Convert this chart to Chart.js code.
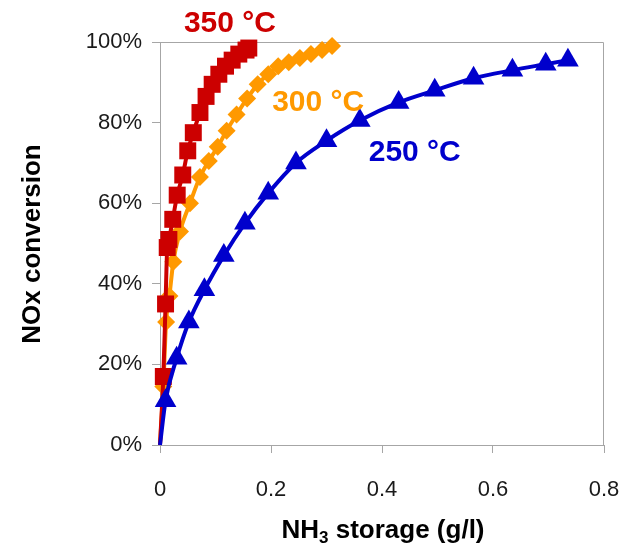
<!DOCTYPE html>
<html>
<head>
<meta charset="utf-8">
<script src="https://cdn.jsdelivr.net/npm/chart.js@4/dist/chart.umd.min.js"></script>
<style>
  html, body { margin: 0; padding: 0; background: #fff; }
  #wrap { width: 624px; height: 551px; }
</style>
</head>
<body>
<div id="wrap"><canvas id="chart"></canvas></div>
<script>
// NH3 storage (g/l) vs NOx conversion (%) at three temperatures
const storage250 = [0, 0.010, 0.030, 0.052, 0.080, 0.115, 0.153, 0.195, 0.245, 0.300, 0.360, 0.430, 0.495, 0.565, 0.635, 0.695, 0.735];
const conv250    = [0, 11, 21.5, 30.5, 38.5, 47, 55, 62.5, 70, 75.5, 80.5, 85, 88, 91, 93, 94.5, 95.5];

const storage300 = [0, 0.006, 0.011, 0.017, 0.024, 0.036, 0.054, 0.072, 0.088, 0.104, 0.120, 0.138, 0.157, 0.176, 0.195, 0.213, 0.232, 0.252, 0.272, 0.292, 0.310];
const conv300    = [0, 14.5, 30.5, 37, 45.5, 53, 60, 66.5, 70.5, 74, 78, 82, 86, 89.5, 92, 94, 95, 96, 97, 98, 99];

const storage350 = [0, 0.006, 0.010, 0.013, 0.016, 0.023, 0.031, 0.041, 0.050, 0.060, 0.072, 0.083, 0.094, 0.106, 0.118, 0.130, 0.142, 0.155, 0.160];
const conv350    = [0, 17, 35, 49, 51, 56, 62, 67, 73, 77.5, 82.5, 86.5, 89.5, 92, 94, 95.5, 97, 98, 98.5];

const xTicks = [0, 0.2, 0.4, 0.6, 0.8];
const yTicks = [0, 20, 40, 60, 80, 100];

// series labels, placed in data units
const seriesLabels = [
  { text: '350 °C', x: 0.126, y: 104.5, color: '#CC0000' },
  { text: '300 °C', x: 0.285, y: 85,    color: '#FF9900' },
  { text: '250 °C', x: 0.459, y: 72.6,  color: '#0000CC' }
];

const toPoints = (xs, ys) => xs.map((x, i) => ({ x: x, y: ys[i] }));
const AXIS_GREY = '#A6A6A6';

// no marker on the origin point, only the line starts there
const markerSize = r => ctx => (ctx.dataIndex === 0 ? 0 : r);

function series(label, xs, ys, color, style, r) {
  return {
    label: label,
    data: toPoints(xs, ys),
    borderColor: color,
    backgroundColor: color,
    borderWidth: 4,
    pointStyle: style,
    pointRadius: markerSize(r),
    pointHoverRadius: markerSize(r),
    pointBorderWidth: 0,
    cubicInterpolationMode: 'monotone',
    clip: false
  };
}

const framePlugin = {
  id: 'frame',
  beforeDatasetsDraw(chart) {
    const a = chart.chartArea;
    const ctx = chart.ctx;
    ctx.save();
    ctx.strokeStyle = AXIS_GREY;
    ctx.lineWidth = 1;
    ctx.beginPath();
    ctx.moveTo(a.left, a.top + 0.5);
    ctx.lineTo(a.right - 0.5, a.top + 0.5);
    ctx.lineTo(a.right - 0.5, a.bottom);
    ctx.stroke();
    ctx.restore();
  }
};

const textPlugin = {
  id: 'texts',
  afterDraw(chart) {
    const ctx = chart.ctx;
    const xs = chart.scales.x, ys = chart.scales.y;
    ctx.save();
    ctx.textAlign = 'center';
    ctx.textBaseline = 'middle';
    ctx.font = 'bold 30px "Liberation Sans", Arial, sans-serif';
    seriesLabels.forEach(l => {
      ctx.fillStyle = l.color;
      ctx.fillText(l.text, xs.getPixelForValue(l.x), ys.getPixelForValue(l.y));
    });

    // y axis title
    ctx.fillStyle = '#000';
    ctx.font = 'bold 26px "Liberation Sans", Arial, sans-serif';
    ctx.translate(33, 244);
    ctx.rotate(-Math.PI / 2);
    ctx.fillText('NOx conversion', 0, 0);
    ctx.setTransform(1, 0, 0, 1, 0, 0);

    // x axis title with subscript 3
    const big = 'bold 26px "Liberation Sans", Arial, sans-serif';
    const small = 'bold 17px "Liberation Sans", Arial, sans-serif';
    const parts = [['NH', big, 0], ['3', small, 7], [' storage (g/l)', big, 0]];
    let total = 0;
    parts.forEach(p => { ctx.font = p[1]; total += ctx.measureText(p[0]).width; });
    let x = 383 - total / 2;
    ctx.textAlign = 'left';
    parts.forEach(p => {
      ctx.font = p[1];
      ctx.fillText(p[0], x, 531 + p[2]);
      x += ctx.measureText(p[0]).width;
    });
    ctx.restore();
  }
};

new Chart(document.getElementById('chart'), {
  type: 'line',
  data: {
    datasets: [
      series('250 °C', storage250, conv250, '#0000CC', 'triangle', 12.5),
      series('350 °C', storage350, conv350, '#CC0000', 'rect', 12),
      series('300 °C', storage300, conv300, '#FF9900', 'rectRot', 9)
    ]
  },
  options: {
    responsive: true,
    maintainAspectRatio: false,
    animation: false,
    layout: { padding: { top: 42, right: 20, left: 0, bottom: 0 } },
    plugins: { legend: { display: false }, tooltip: { enabled: false } },
    scales: {
      x: {
        type: 'linear',
        min: 0, max: 0.8,
        afterFit: s => { s.height = 106; s.paddingLeft = 0; s.paddingRight = 0; },
        afterBuildTicks: s => { s.ticks = xTicks.map(v => ({ value: v })); },
        ticks: {
          padding: 24,
          color: '#1a1a1a',
          font: { family: '"Liberation Sans", Arial, sans-serif', size: 22 },
          callback: v => (v === 0 ? '0' : v.toFixed(1))
        },
        grid: { drawOnChartArea: false, tickLength: 8, color: AXIS_GREY },
        border: { color: AXIS_GREY, width: 1 }
      },
      y: {
        type: 'linear',
        min: 0, max: 100,
        afterFit: s => { s.width = 160; s.paddingTop = 0; s.paddingBottom = 0; },
        afterBuildTicks: s => { s.ticks = yTicks.map(v => ({ value: v })); },
        ticks: {
          padding: 10,
          color: '#1a1a1a',
          font: { family: '"Liberation Sans", Arial, sans-serif', size: 22 },
          callback: v => v + '%'
        },
        grid: { drawOnChartArea: false, tickLength: 8, color: AXIS_GREY },
        border: { color: AXIS_GREY, width: 1 }
      }
    }
  },
  plugins: [framePlugin, textPlugin]
});
</script>
</body>
</html>
